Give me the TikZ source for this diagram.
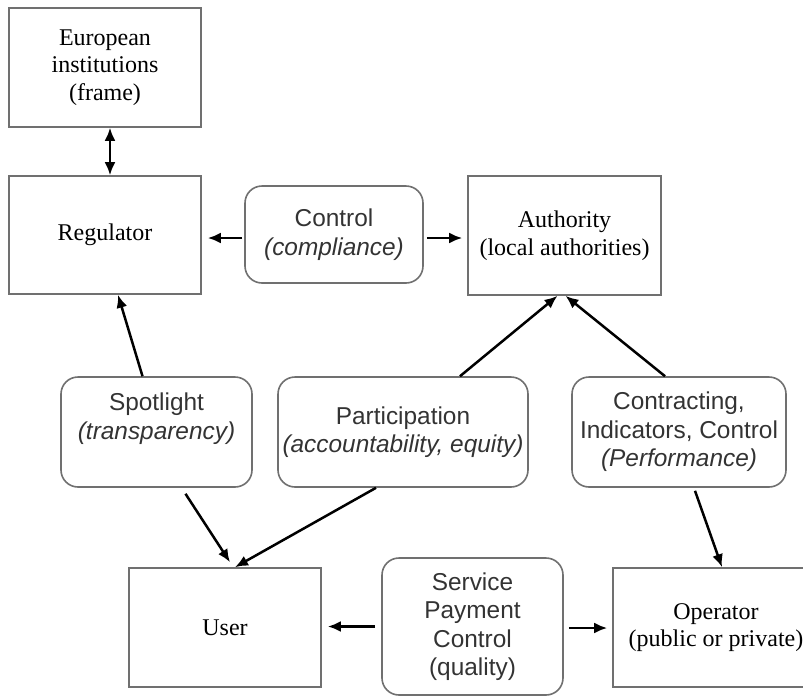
\documentclass[tikz,border=0pt]{standalone}
\usepackage{fontspec}
\setmainfont{Liberation Serif}
\setsansfont{Liberation Sans}
\usetikzlibrary{arrows.meta}

\definecolor{boxgray}{HTML}{707070}
\definecolor{textgray}{HTML}{333333}

\tikzset{
  sqbox/.style={draw=boxgray,line width=1.6pt,inner sep=0pt,align=center,
    font=\fontsize{24}{27.5}\selectfont},
  rbox/.style={sqbox,rounded corners=17pt,text=textgray,
    font=\sffamily\fontsize{24.4}{28.5}\selectfont},
  arr/.style={line width=2.5pt,-{Latex[length=13pt,width=11pt]}},
  dblarr/.style={line width=2.5pt,{Latex[length=13pt,width=11pt]}-{Latex[length=13pt,width=11pt]}},
}

\begin{document}
\begin{tikzpicture}[x=1pt,y=-1pt]
\clip (0,0) rectangle (803,697);
% square boxes
\node[sqbox,minimum width=192pt,minimum height=119pt] (euro) at (105,67.5) {European\\institutions\\(frame)};
\node[sqbox,minimum width=192pt,minimum height=118pt] (reg) at (105,235) {Regulator};
\node[sqbox,minimum width=193pt,minimum height=119pt] (auth) at (564.5,235.5) {Authority\\(local authorities)};
\node[sqbox,minimum width=192pt,minimum height=119pt] (user) at (225,627.5) {User};
\node[sqbox,minimum width=206pt,minimum height=119pt] (oper) at (716,627.5) {Operator\\(public or private)};
% rounded boxes
\node[rbox,minimum width=178pt,minimum height=97pt] (ctrl) at (334,234.5) {Control\\\textit{(compliance)}};
\node[rbox,minimum width=191pt,minimum height=110pt,text depth=32pt] (spot) at (156.5,432) {Spotlight\\\textit{(transparency)}};
\node[rbox,minimum width=250pt,minimum height=110pt] (part) at (403,432) {Participation\\\textit{(accountability, equity)}};
\node[rbox,minimum width=214pt,minimum height=110pt] (contr) at (679,432) {Contracting,\\Indicators, Control\\\textit{(Performance)}};
\node[rbox,minimum width=181pt,minimum height=137pt] (serv) at (472.5,626.5) {Service\\Payment\\Control\\(quality)};
% arrows
\draw[dblarr] ([xshift=5pt]euro.south) -- ([xshift=5pt]reg.north);
\draw[arr] ([xshift=-2pt,yshift=-3.5pt]ctrl.west) -- ([xshift=6pt,yshift=-3.5pt]ctrl.west -| reg.east);
\draw[arr] ([xshift=3pt,yshift=-3.5pt]ctrl.east) -- ([xshift=-5pt,yshift=-3.5pt]ctrl.east -| auth.west);
\draw[arr] ([xshift=-14pt]spot.north) -- ([xshift=13pt]reg.south);
\draw[arr] ([xshift=57pt]part.north) -- ([xshift=-7pt]auth.south);
\draw[arr] ([xshift=-14pt]contr.north) -- ([xshift=1pt]auth.south);
\draw[arr] ([xshift=29pt,yshift=-6pt]spot.south) -- ([xshift=5pt,yshift=5pt]user.north);
\draw[arr] ([xshift=-27pt]part.south) -- ([xshift=10pt]user.north);
\draw[arr] ([xshift=16pt,yshift=-3pt]contr.south) -- ([xshift=6pt]oper.north);
\draw[arr] ([xshift=-6pt]serv.west) -- ([xshift=6pt]serv.west -| user.east);
\draw[arr] ([xshift=5pt,yshift=-1.5pt]serv.east) -- ([xshift=-5pt,yshift=-1.5pt]serv.east -| oper.west);
\end{tikzpicture}
\end{document}
